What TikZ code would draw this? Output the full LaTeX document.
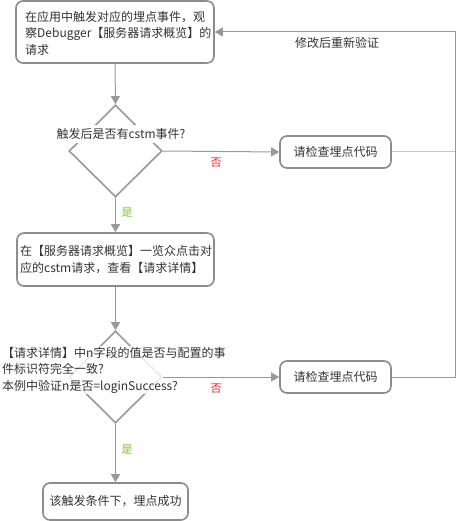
\documentclass[tikz,border=0pt]{standalone}
\usepackage{fontspec}
\setmainfont{Noto Sans CJK SC}
\usetikzlibrary{arrows.meta,shapes.geometric}
\definecolor{edgec}{HTML}{999999}
\definecolor{boxc}{HTML}{8C8C8C}
\definecolor{lightc}{HTML}{C4C4C4}
\definecolor{txtc}{HTML}{333333}
\definecolor{noc}{HTML}{E8262B}
\definecolor{yesc}{HTML}{7DBE3C}
\tikzset{
  box/.style={draw=boxc, line width=1.6pt, rounded corners=7pt, fill=white, text=txtc, inner sep=0pt},
  dia/.style={draw=edgec, line width=1.6pt, diamond, minimum width=93pt, minimum height=92pt, inner sep=0pt, aspect=1},
  arr/.style={draw=edgec, line width=1pt, -{Triangle[length=8pt,width=9pt]}},
  ln/.style={draw=edgec, line width=1pt},
  nolab/.style={text=noc, font=\fontsize{11}{13}\selectfont},
  yeslab/.style={text=yesc, font=\fontsize{11}{13}\selectfont},
  plain/.style={text=txtc, inner sep=1pt}
}
\begin{document}
\begin{tikzpicture}[x=1pt,y=-1pt,font=\fontsize{12}{16.5}\selectfont]
\useasboundingbox (0,0) rectangle (456,521);
\node[box, minimum width=198pt, minimum height=62pt] (b1) at (115,32) {};
\node[plain, anchor=west, align=left] (b1t) at (24,33) {在应用中触发对应的埋点事件，观\\察Debugger【服务器请求概览】的\\请求};
\node[dia] (d1) at (115.5,151) {};
\node[plain, fill=white, inner xsep=6pt, inner ysep=3pt] (d1t) at (121,134) {触发后是否有cstm事件?};
\node[box, minimum width=111pt, minimum height=32pt] (b2) at (335.5,152) {请检查埋点代码};
\node[box, minimum width=197pt, minimum height=53pt] (b3) at (115.5,259.5) {};
\node[plain, anchor=west, align=left] (b3t) at (19,259.5) {在【服务器请求概览】一览众点击对\\应的cstm请求，查看【请求详情】};
\node[dia] (d2) at (115.5,377) {};
\node[plain, anchor=west, align=left, fill=white, fill opacity=0.8, text opacity=1] (d2t) at (1,370) {【请求详情】中n字段的值是否与配置的事\\件标识符完全一致?\\本例中验证n是否=loginSuccess?};
\node[box, minimum width=111pt, minimum height=32pt] (b4) at (335.5,377) {请检查埋点代码};
\node[box, minimum width=145pt, minimum height=37pt] (b5) at (115.5,501.5) {该触发条件下，埋点成功};
\coordinate (c1) at (455,152);
\coordinate (c2) at (455,377);
\coordinate (c3) at (455,32);
\draw[arr] (b1.south) -- (d1.north);
\draw[arr] (d1.east) -- (b2.west);
\draw[arr] (d1.south) -- (b3.north);
\draw[arr] (b3.south) -- (d2.north);
\draw[arr] (d2.east) -- (b4.west);
\draw[arr] (d2.south) -- (b5.north);
\draw[ln, draw=lightc] (b2.east) -- (c1);
\draw[arr] (b4.east) -- (c2) -- (c3) -- (b1.east);
\node[nolab] (n1) at (216,163) {否};
\node[nolab] (n2) at (216,389) {否};
\node[yeslab] (y1) at (127,213) {是};
\node[yeslab] (y2) at (127,450) {是};
\node[plain] (fb) at (337,43) {修改后重新验证};
\end{tikzpicture}
\end{document}
